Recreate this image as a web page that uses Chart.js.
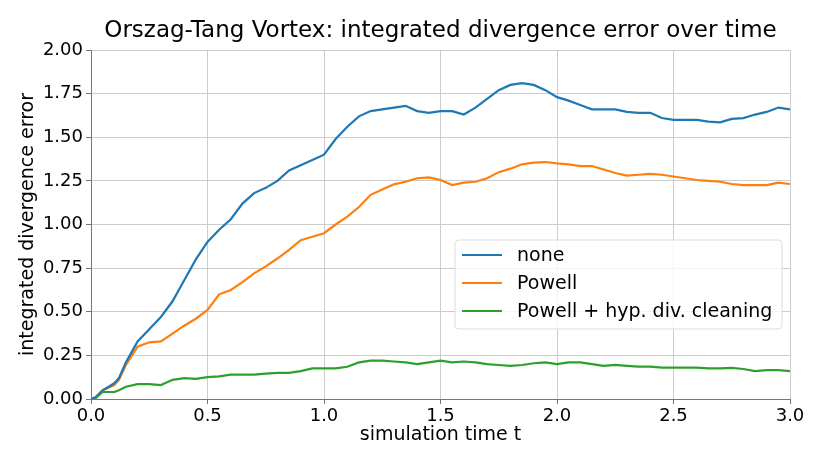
<!DOCTYPE html>
<html lang="en">
<head>
    <meta charset="UTF-8">
    <title>Orszag-Tang Vortex divergence error</title>
    <script src="https://cdn.jsdelivr.net/npm/chart.js"></script>
    <style>
        body { margin: 0; background: #fff; }
        #wrap { width: 830px; height: 467px; }
    </style>
</head>
<body>
    <div id="wrap">
        <canvas id="divChart" width="830" height="467"></canvas>
    </div>
    <script>
        // simulation time t
        var times = [0, 0.02, 0.05, 0.1, 0.12, 0.15,
            0.2, 0.25, 0.3, 0.35, 0.4, 0.45, 0.5, 0.55, 0.6, 0.65, 0.7, 0.75,
            0.8, 0.85, 0.9, 0.95, 1.0, 1.05, 1.1, 1.15, 1.2, 1.25, 1.3, 1.35,
            1.4, 1.45, 1.5, 1.55, 1.6, 1.65, 1.7, 1.75, 1.8, 1.85, 1.9, 1.95,
            2.0, 2.05, 2.1, 2.15, 2.2, 2.25, 2.3, 2.35, 2.4, 2.45, 2.5, 2.55,
            2.6, 2.65, 2.7, 2.75, 2.8, 2.85, 2.9, 2.95, 3.0];

        var errNone = [0, 0.01, 0.05, 0.09, 0.12, 0.21,
            0.33, 0.40, 0.47, 0.56, 0.68, 0.80, 0.90, 0.97, 1.03, 1.12, 1.18, 1.21,
            1.25, 1.31, 1.34, 1.37, 1.40, 1.49, 1.56, 1.62, 1.65, 1.66, 1.67, 1.68,
            1.65, 1.64, 1.65, 1.65, 1.63, 1.67, 1.72, 1.77, 1.80, 1.81, 1.80, 1.77,
            1.73, 1.71, 1.685, 1.66, 1.66, 1.66, 1.645, 1.64, 1.64, 1.61, 1.60, 1.60,
            1.60, 1.59, 1.585, 1.605, 1.61, 1.63, 1.645, 1.67, 1.66];

        var errPowell = [0, 0.01, 0.05, 0.08, 0.11, 0.195,
            0.30, 0.325, 0.33, 0.375, 0.42, 0.46, 0.51, 0.60, 0.625, 0.67, 0.72, 0.76,
            0.805, 0.855, 0.91, 0.93, 0.95, 1.00, 1.045, 1.10, 1.17, 1.20, 1.23, 1.245,
            1.265, 1.27, 1.255, 1.226, 1.24, 1.245, 1.265, 1.30, 1.32, 1.345, 1.355, 1.358,
            1.35, 1.345, 1.335, 1.335, 1.315, 1.295, 1.28, 1.285, 1.29, 1.285, 1.275, 1.265,
            1.255, 1.25, 1.245, 1.232, 1.226, 1.226, 1.226, 1.24, 1.232];

        var errCleaning = [0, 0.005, 0.04, 0.04, 0.05, 0.07,
            0.085, 0.085, 0.08, 0.11, 0.12, 0.115, 0.125, 0.13, 0.14, 0.14, 0.14, 0.145,
            0.15, 0.15, 0.16, 0.175, 0.175, 0.175, 0.185, 0.21, 0.22, 0.22, 0.215, 0.21,
            0.20, 0.21, 0.22, 0.21, 0.215, 0.21, 0.20, 0.195, 0.19, 0.195, 0.205, 0.21,
            0.20, 0.21, 0.21, 0.20, 0.19, 0.195, 0.19, 0.185, 0.185, 0.18, 0.18, 0.18,
            0.18, 0.175, 0.175, 0.178, 0.172, 0.16, 0.165, 0.165, 0.16];

        var seriesNames = ['none', 'Powell', 'Powell + hyp. div. cleaning'];
        var seriesColors = ['#1f77b4', '#ff7f0e', '#2ca02c'];
        var xTicks = [0, 0.5, 1.0, 1.5, 2.0, 2.5, 3.0];
        var yTicks = [0, 0.25, 0.5, 0.75, 1.0, 1.25, 1.5, 1.75, 2.0];
        var chartTitle = 'Orszag-Tang Vortex: integrated divergence error over time';

        var FONT = 'DejaVu Sans';

        function toPoints(vals) {
            return times.map(function(t, i) { return { x: t, y: vals[i] }; });
        }

        // title centred over the plot area, like matplotlib does
        var plotTitle = {
            id: 'plotTitle',
            afterDraw: function(chart) {
                var ctx = chart.ctx;
                var area = chart.chartArea;
                ctx.save();
                ctx.font = '23px "' + FONT + '"';
                ctx.fillStyle = '#000';
                ctx.textAlign = 'center';
                ctx.textBaseline = 'alphabetic';
                ctx.fillText(chartTitle, (area.left + area.right) / 2, area.top - 13);
                ctx.restore();
            }
        };

        // legend box inside the plot area (lower right)
        var boxLegend = {
            id: 'boxLegend',
            afterDatasetsDraw: function(chart) {
                var ctx = chart.ctx;
                var area = chart.chartArea;
                var w = 327, h = 89;
                var x = area.right - 8 - w;
                var y = area.bottom - 70 - h;
                ctx.save();
                ctx.beginPath();
                ctx.roundRect(x, y, w, h, 4);
                ctx.fillStyle = 'rgba(255,255,255,0.8)';
                ctx.fill();
                ctx.strokeStyle = '#dddddd';
                ctx.lineWidth = 1;
                ctx.stroke();
                ctx.font = '19px "' + FONT + '"';
                ctx.textBaseline = 'middle';
                for (var i = 0; i < seriesNames.length; i++) {
                    var ry = y + 15 + i * 28;
                    ctx.beginPath();
                    ctx.moveTo(x + 7, ry);
                    ctx.lineTo(x + 47, ry);
                    ctx.strokeStyle = seriesColors[i];
                    ctx.lineWidth = 2.2;
                    ctx.stroke();
                    ctx.fillStyle = '#000';
                    ctx.fillText(seriesNames[i], x + 62, ry + 1);
                }
                ctx.restore();
            }
        };

        var ctx = document.getElementById('divChart').getContext('2d');
        var chart = new Chart(ctx, {
            type: 'line',
            data: {
                datasets: [errNone, errPowell, errCleaning].map(function(vals, i) {
                    return {
                        label: seriesNames[i],
                        data: toPoints(vals),
                        borderColor: seriesColors[i],
                        backgroundColor: seriesColors[i],
                        borderWidth: 2.2,
                        pointRadius: 0,
                        fill: false,
                        tension: 0
                    };
                })
            },
            options: {
                responsive: false,
                animation: false,
                layout: { padding: { left: 12, right: 40, top: 50, bottom: 17 } },
                plugins: {
                    legend: { display: false },
                    tooltip: { enabled: false },
                    title: { display: false }
                },
                scales: {
                    x: {
                        type: 'linear',
                        min: 0,
                        max: 3,
                        afterBuildTicks: function(scale) {
                            scale.ticks = xTicks.map(function(v) { return { value: v }; });
                        },
                        afterFit: function(scale) { scale.height = 51; },
                        ticks: {
                            color: '#000',
                            font: { family: FONT, size: 18 },
                            padding: 2,
                            maxRotation: 0,
                            callback: function(v) { return Number(v).toFixed(1); }
                        },
                        grid: { color: '#cccccc', lineWidth: 1, tickColor: '#777', tickLength: 5 },
                        border: { color: '#777', width: 1 },
                        title: {
                            display: true,
                            text: 'simulation time t',
                            color: '#000',
                            font: { family: FONT, size: 19 },
                            padding: { top: 0, bottom: 4 }
                        }
                    },
                    y: {
                        min: 0,
                        max: 2,
                        afterBuildTicks: function(scale) {
                            scale.ticks = yTicks.map(function(v) { return { value: v }; });
                        },
                        afterFit: function(scale) { scale.width = 79; },
                        ticks: {
                            color: '#000',
                            font: { family: FONT, size: 18 },
                            padding: 3,
                            callback: function(v) { return Number(v).toFixed(2); }
                        },
                        grid: { color: '#cccccc', lineWidth: 1, tickColor: '#777', tickLength: 5 },
                        border: { color: '#777', width: 1 },
                        title: {
                            display: true,
                            text: 'integrated divergence error',
                            color: '#000',
                            font: { family: FONT, size: 19 },
                            padding: { top: 5, bottom: 0 }
                        }
                    }
                }
            },
            plugins: [plotTitle, boxLegend]
        });
    </script>
</body>
</html>
